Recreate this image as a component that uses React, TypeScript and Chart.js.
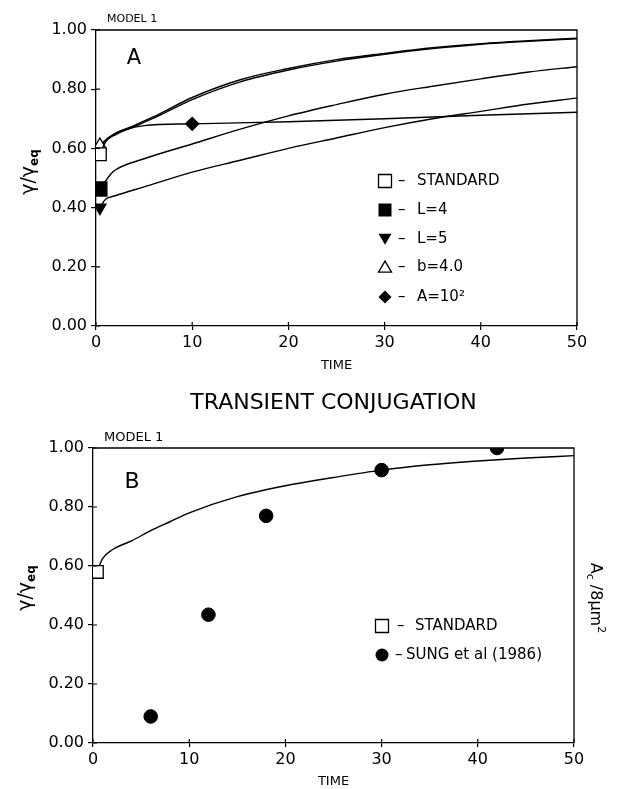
import React, { useEffect, useRef } from 'react';
import { Chart, registerables } from 'chart.js';

Chart.register(...registerables);

const FONT = 'DejaVu Sans';

// ---------- Panel A data ----------
const timeStdA = [0.4, 1, 2, 4, 6, 10, 15, 20, 25, 30, 35, 40, 45, 50];
const valStdA = [0.58, 0.622, 0.646, 0.674, 0.702, 0.765, 0.825, 0.865, 0.895, 0.918, 0.937, 0.952, 0.962, 0.97];

const timeB4 = [0.4, 1, 2, 4, 6, 10, 15, 20, 25, 30, 35, 40, 45, 50];
const valB4 = [0.61, 0.628, 0.651, 0.678, 0.707, 0.772, 0.832, 0.87, 0.9, 0.921, 0.94, 0.954, 0.964, 0.972];

const timeL4 = [0.4, 1, 1.5, 2, 5, 10, 15, 20, 25, 30, 35, 40, 45, 50];
const valL4 = [0.463, 0.49, 0.512, 0.527, 0.565, 0.615, 0.665, 0.71, 0.748, 0.783, 0.81, 0.835, 0.858, 0.876];

const timeL5 = [0.4, 1, 2, 5, 10, 15, 20, 25, 30, 35, 40, 45, 50];
const valL5 = [0.4, 0.428, 0.44, 0.47, 0.52, 0.56, 0.6, 0.635, 0.67, 0.7, 0.725, 0.75, 0.77];

const timeA2 = [0.4, 1, 2, 3, 5, 10, 20, 30, 40, 50];
const valA2 = [0.6, 0.628, 0.65, 0.663, 0.677, 0.683, 0.69, 0.7, 0.712, 0.722];

// ---------- Panel B data ----------
const timeStdB = [0.4, 1, 2, 4, 6, 8, 10, 15, 20, 25, 30, 35, 40, 45, 50];
const valStdB = [0.58, 0.625, 0.655, 0.685, 0.72, 0.75, 0.78, 0.835, 0.872, 0.9, 0.925, 0.943, 0.956, 0.966, 0.974];

const timeSung = [6, 12, 18, 30, 42];
const valSung = [0.09, 0.435, 0.77, 0.925, 1.0];

// ---------- Axis ticks ----------
const xTickStep = 10;
const yTickStep = 0.2;

const zip = (t: number[], v: number[]) => t.map((x, i) => ({ x, y: v[i] }));

type Marker = 'openSquare' | 'filledSquare' | 'triDown' | 'openTri' | 'diamond' | 'circle';

function drawMarker(ctx: CanvasRenderingContext2D, m: Marker, x: number, y: number, s: number) {
  ctx.save();
  ctx.lineWidth = 1.3;
  ctx.strokeStyle = '#000';
  ctx.fillStyle = '#000';
  ctx.beginPath();
  if (m === 'openSquare' || m === 'filledSquare') {
    ctx.rect(x - s / 2, y - s / 2, s, s);
    if (m === 'openSquare') {
      ctx.fillStyle = '#fff';
      ctx.fill();
      ctx.stroke();
    } else ctx.fill();
  } else if (m === 'triDown') {
    ctx.moveTo(x - s / 2, y - s * 0.4);
    ctx.lineTo(x + s / 2, y - s * 0.4);
    ctx.lineTo(x, y + s * 0.45);
    ctx.closePath();
    ctx.fill();
  } else if (m === 'openTri') {
    ctx.moveTo(x - s / 2, y + s * 0.4);
    ctx.lineTo(x + s / 2, y + s * 0.4);
    ctx.lineTo(x, y - s * 0.45);
    ctx.closePath();
    ctx.fillStyle = '#fff';
    ctx.fill();
    ctx.stroke();
  } else if (m === 'diamond') {
    ctx.moveTo(x - s / 2, y);
    ctx.lineTo(x, y - s / 2);
    ctx.lineTo(x + s / 2, y);
    ctx.lineTo(x, y + s / 2);
    ctx.closePath();
    ctx.fill();
  } else {
    ctx.arc(x, y, s / 2, 0, Math.PI * 2);
    ctx.fill();
  }
  ctx.restore();
}

type LegendItem = { marker: Marker; dash: string; dashX: number; label: string; labelX: number; y: number };

type DecorCfg = {
  model: { x: number; y: number; size: number };
  letter: { text: string; x: number; y: number; size: number };
  yLabel: { x: number; y: number };
  legendX: number;
  legend: LegendItem[];
  title?: { text: string; y: number };
  rightLabel?: { x: number; y: number };
};

function decorPlugin(cfg: DecorCfg) {
  return {
    id: 'decor',
    afterDraw(chart: any) {
      const { ctx, chartArea: a, scales } = chart;
      ctx.save();
      ctx.strokeStyle = '#000';
      ctx.lineWidth = 1.3;
      ctx.beginPath();
      ctx.moveTo(a.left, a.top);
      ctx.lineTo(a.right, a.top);
      ctx.lineTo(a.right, a.bottom);
      ctx.stroke();
      // inner tick halves (ticks cross the axis)
      ctx.lineWidth = 1.2;
      ctx.beginPath();
      scales.x.ticks.forEach((t: any) => {
        const px = scales.x.getPixelForValue(t.value);
        ctx.moveTo(px, a.bottom);
        ctx.lineTo(px, a.bottom - 4);
      });
      scales.y.ticks.forEach((t: any) => {
        const py = scales.y.getPixelForValue(t.value);
        ctx.moveTo(a.left, py);
        ctx.lineTo(a.left + 4, py);
      });
      ctx.stroke();

      ctx.fillStyle = '#000';
      ctx.textBaseline = 'middle';
      // MODEL 1
      ctx.textAlign = 'left';
      ctx.font = `${cfg.model.size}px "${FONT}"`;
      ctx.fillText('MODEL 1', cfg.model.x, cfg.model.y);
      // Panel letter
      ctx.textAlign = 'center';
      ctx.font = `${cfg.letter.size}px "${FONT}"`;
      ctx.fillText(cfg.letter.text, cfg.letter.x, cfg.letter.y);

      // y-axis label γ/γeq (rotated)
      ctx.save();
      ctx.translate(cfg.yLabel.x, cfg.yLabel.y);
      ctx.rotate(-Math.PI / 2);
      ctx.textAlign = 'left';
      ctx.textBaseline = 'alphabetic';
      ctx.font = `19px "${FONT}"`;
      const main = 'γ/γ';
      const wMain = ctx.measureText(main).width;
      ctx.font = `bold 12px "${FONT}"`;
      const wSub = ctx.measureText('eq').width;
      const total = wMain + wSub;
      ctx.font = `19px "${FONT}"`;
      ctx.fillText(main, -total / 2, 6);
      ctx.font = `bold 12px "${FONT}"`;
      ctx.fillText('eq', -total / 2 + wMain, 10);
      ctx.restore();

      // right label A_c / 8μm^2
      if (cfg.rightLabel) {
        ctx.save();
        ctx.translate(cfg.rightLabel.x, cfg.rightLabel.y);
        ctx.rotate(Math.PI / 2);
        ctx.textAlign = 'left';
        ctx.textBaseline = 'alphabetic';
        const parts: [string, string, number][] = [
          ['A', `16px "${FONT}"`, 0],
          ['c', `11px "${FONT}"`, 4],
          [' /8μm', `16px "${FONT}"`, 0],
          ['2', `11px "${FONT}"`, -7],
        ];
        let w = 0;
        parts.forEach(([t, f]) => {
          ctx.font = f;
          w += ctx.measureText(t).width;
        });
        let x = -w / 2;
        parts.forEach(([t, f, dy]) => {
          ctx.font = f;
          ctx.fillText(t, x, 6 + dy);
          x += ctx.measureText(t).width;
        });
        ctx.restore();
      }

      // title
      if (cfg.title) {
        ctx.textAlign = 'center';
        ctx.textBaseline = 'middle';
        ctx.font = `22px "${FONT}"`;
        ctx.fillText(cfg.title.text, (a.left + a.right) / 2, cfg.title.y);
      }

      // legend
      ctx.textAlign = 'left';
      ctx.textBaseline = 'middle';
      ctx.font = `15px "${FONT}"`;
      cfg.legend.forEach((it) => {
        drawMarker(ctx, it.marker, cfg.legendX, it.y, 13);
        ctx.fillText(it.dash, it.dashX, it.y);
        ctx.fillText(it.label, it.labelX, it.y);
      });
      ctx.restore();
    },
  };
}

function scalesCfg(yWidth: number, xHeight: number, titlePadBottom: number) {
  return {
    x: {
      type: 'linear' as const,
      min: 0,
      max: 50,
      ticks: {
        stepSize: xTickStep,
        color: '#000',
        font: { family: FONT, size: 16 },
        padding: 3,
        maxRotation: 0,
      },
      grid: { drawOnChartArea: false, drawTicks: true, tickLength: 4, color: '#000', lineWidth: 1.2 },
      border: { display: true, color: '#000', width: 1.3 },
      title: {
        display: true,
        text: 'TIME',
        color: '#000',
        font: { family: FONT, size: 13 },
        padding: { top: 0, bottom: titlePadBottom },
      },
      afterFit: (s: any) => {
        s.height = xHeight;
      },
    },
    y: {
      type: 'linear' as const,
      min: 0,
      max: 1,
      ticks: {
        stepSize: yTickStep,
        color: '#000',
        font: { family: FONT, size: 16 },
        padding: 4,
        callback: (v: any) => Number(v).toFixed(2),
      },
      grid: { drawOnChartArea: false, drawTicks: true, tickLength: 5, color: '#000', lineWidth: 1.2 },
      border: { display: true, color: '#000', width: 1.3 },
      afterFit: (s: any) => {
        s.width = yWidth;
      },
    },
  };
}

const lineDs = (
  label: string,
  t: number[],
  v: number[],
  markerIdx: number,
  style: string,
  r: number,
  fill: string,
  rotation = 0
) => ({
  label,
  data: zip(t, v),
  borderColor: '#000',
  borderWidth: 1.4,
  fill: false,
  cubicInterpolationMode: 'monotone' as const,
  pointStyle: style,
  pointRotation: rotation,
  pointRadius: (c: any) => (c.dataIndex === markerIdx ? r : 0),
  pointBackgroundColor: fill,
  pointBorderColor: '#000',
  pointBorderWidth: 1.3,
});

export default function App() {
  const topRef = useRef<HTMLCanvasElement>(null);
  const botRef = useRef<HTMLCanvasElement>(null);

  useEffect(() => {
    document.body.style.margin = '0';
    const commonOpts = {
      responsive: false,
      animation: false as const,
      events: [] as any[],
      plugins: { legend: { display: false }, tooltip: { enabled: false } },
    };

    const top = new Chart(topRef.current!, {
      type: 'line',
      data: {
        datasets: [
          lineDs('STANDARD', timeStdA, valStdA, 0, 'rect', 9, '#fff'),
          lineDs('b=4.0', timeB4, valB4, 0, 'triangle', 7.5, '#fff'),
          lineDs('L=4', timeL4, valL4, 0, 'rect', 10, '#000'),
          lineDs('L=5', timeL5, valL5, 0, 'triangle', 7, '#000', 180),
          lineDs('A=10²', timeA2, valA2, 5, 'rectRot', 6.5, '#000'),
        ],
      },
      options: {
        ...commonOpts,
        layout: { padding: { top: 30, right: 46, left: 0, bottom: 0 } },
        scales: scalesCfg(96, 59, 12) as any,
      },
      plugins: [
        decorPlugin({
          model: { x: 107, y: 19.5, size: 11 },
          letter: { text: 'A', x: 134, y: 59, size: 21 },
          yLabel: { x: 28, y: 172 },
          legendX: 385,
          legend: [
            { marker: 'openSquare', dash: '–', dashX: 398, label: 'STANDARD', labelX: 417, y: 181 },
            { marker: 'filledSquare', dash: '–', dashX: 398, label: 'L=4', labelX: 417, y: 210 },
            { marker: 'triDown', dash: '–', dashX: 398, label: 'L=5', labelX: 417, y: 239 },
            { marker: 'openTri', dash: '–', dashX: 398, label: 'b=4.0', labelX: 417, y: 267 },
            { marker: 'diamond', dash: '–', dashX: 398, label: 'A=10²', labelX: 417, y: 297 },
          ],
        }),
      ],
    });

    const bot = new Chart(botRef.current!, {
      type: 'line',
      data: {
        datasets: [
          lineDs('STANDARD', timeStdB, valStdB, 0, 'rect', 9, '#fff'),
          {
            label: 'SUNG et al (1986)',
            data: zip(timeSung, valSung),
            showLine: false,
            pointStyle: 'circle',
            pointRadius: 6.8,
            pointBackgroundColor: '#000',
            pointBorderColor: '#000',
            borderColor: '#000',
          },
        ],
      },
      options: {
        ...commonOpts,
        layout: { padding: { top: 63, right: 49, left: 0, bottom: 0 } },
        scales: scalesCfg(93, 46, 0) as any,
      },
      plugins: [
        decorPlugin({
          model: { x: 104, y: 52.5, size: 13 },
          letter: { text: 'B', x: 132, y: 97, size: 22 },
          yLabel: { x: 25, y: 203 },
          legendX: 382,
          legend: [
            { marker: 'openSquare', dash: '–', dashX: 397, label: 'STANDARD', labelX: 415, y: 241 },
            { marker: 'circle', dash: '–', dashX: 395, label: 'SUNG et al (1986)', labelX: 406, y: 270 },
          ],
          title: { text: 'TRANSIENT CONJUGATION', y: 18 },
          rightLabel: { x: 597, y: 213 },
        }),
      ],
    });

    return () => {
      top.destroy();
      bot.destroy();
    };
  }, []);

  return (
    <div style={{ position: 'relative', width: 623, height: 789, background: '#fff' }}>
      <canvas
        ref={topRef}
        width={623}
        height={385}
        style={{ position: 'absolute', left: 0, top: 0, width: 623, height: 385 }}
      />
      <canvas
        ref={botRef}
        width={623}
        height={404}
        style={{ position: 'absolute', left: 0, top: 385, width: 623, height: 404 }}
      />
    </div>
  );
}
